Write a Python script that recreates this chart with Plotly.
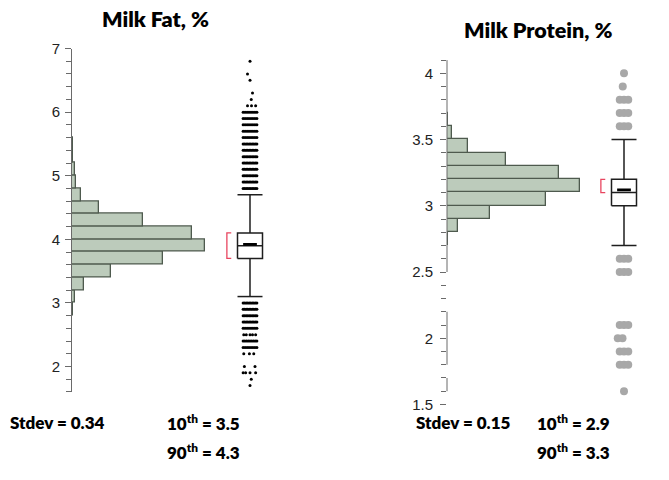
import numpy as np
import plotly.graph_objects as go

# ---------------- data ----------------
# Milk fat histogram (bin lower edges, width 0.2) and relative counts
fat_bin_lo = [2.8, 3.0, 3.2, 3.4, 3.6, 3.8, 4.0, 4.2, 4.4, 4.6, 4.8, 5.0, 5.2, 5.4]
fat_counts = [1, 2, 9, 29, 68, 100, 90, 53, 20, 7, 3, 2, 1, 1]
fat_bin_w = 0.2
# box summary
fat_q1, fat_med, fat_q3 = 3.7, 3.9, 4.1
fat_lo_wh, fat_hi_wh = 3.1, 4.7
fat_mean = 3.92
fat_short_half = [3.7, 4.1]
# outliers: value and number of visible dots
fat_out_vals = [4.8, 4.9, 5.0, 5.1, 5.2, 5.3, 5.4, 5.5, 5.6, 5.7, 5.8, 5.9, 6.0,
                6.1, 6.2, 6.3, 6.5, 6.6, 6.8,
                3.0, 2.9, 2.8, 2.7, 2.6, 2.5, 2.4, 2.3, 2.2, 2.0, 1.9, 1.8, 1.7]
fat_out_n = [10, 10, 10, 10, 10, 10, 10, 10, 8, 8, 8, 8, 8,
             3, 1, 1, 1, 1, 1,
             10, 10, 10, 10, 8, 5, 9, 8, 3, 2, 4, 1, 1]

# Milk protein histogram (width 0.1)
pro_bin_lo = [2.7, 2.8, 2.9, 3.0, 3.1, 3.2, 3.3, 3.4, 3.5, 3.6]
pro_counts = [1, 8, 32, 74, 100, 84, 44, 16, 4, 1]
pro_bin_w = 0.1
pro_q1, pro_med, pro_q3 = 3.0, 3.1, 3.2
pro_lo_wh, pro_hi_wh = 2.7, 3.5
pro_mean = 3.12
pro_short_half = [3.1, 3.2]
pro_out_vals = [4.0, 3.9, 3.8, 3.7, 3.6, 2.6, 2.5, 2.1, 2.0, 1.9, 1.8, 1.6]
pro_out_n = [1, 1, 3, 3, 3, 3, 3, 3, 2, 3, 3, 1]

titles = ["Milk Fat, %", "Milk Protein, %"]
stdevs = ["0.34", "0.15"]
p10 = ["3.5", "2.9"]
p90 = ["4.3", "3.3"]

fat_ticks = [2, 3, 4, 5, 6, 7]
pro_ticks = [1.5, 2, 2.5, 3, 3.5, 4]
pro_tick_text = ["1.5", "2", "2.5", "3", "3.5", "4"]

# ---------------- style / layout helpers ----------------
W, H = 669, 480
BAR_FILL = "rgb(188,203,187)"
BAR_LINE = "rgb(78,90,78)"
BOX_LINE = "#1e1e1e"
RED = "#e8455f"
AX = "#6a6a6a"

# explicit jitter for sparse rows (layout only)
fat_jitter = {6.1: [-0.2, 0.12, 0.45], 6.2: [0.1], 6.3: [0.2], 6.5: [0.0],
              6.6: [-0.2], 6.8: [0.0], 2.5: [-0.5, -0.3, 0.0, 0.2, 0.45],
              2.2: [-0.5, -0.05, 0.3], 2.0: [-0.45, 0.4], 1.9: [-0.55, -0.35, 0.0, 0.45],
              1.8: [0.1], 1.7: [0.0]}
pro_jitter = {3.9: [-0.1], 2.0: [-0.5, -0.12]}


def row_offsets(v, n, jit, spread):
    if v in jit:
        return jit[v]
    if n == 1:
        return [0.0]
    return list(np.linspace(-spread, spread, n))


fig = go.Figure()


def add_panel(bin_lo, counts, bw, q1, med, q3, lo, hi, mean, sh, out_v, out_n,
              xh, yy, xb, jit, spread, osize, ocolor):
    # histogram
    fig.add_trace(go.Bar(
        y=[b + bw / 2 for b in bin_lo], x=counts, width=bw, orientation="h",
        marker=dict(color=BAR_FILL, line=dict(color=BAR_LINE, width=1.3)),
        xaxis=xh, yaxis=yy, showlegend=False, hoverinfo="skip"))
    # whiskers
    for y0, y1 in [(q3, hi), (lo, q1)]:
        fig.add_trace(go.Scatter(x=[0, 0], y=[y0, y1], mode="lines",
                                 line=dict(color=BOX_LINE, width=1.5),
                                 xaxis=xb, yaxis=yy, showlegend=False, hoverinfo="skip"))
    for yv in [lo, hi]:
        fig.add_trace(go.Scatter(x=[-1, 1], y=[yv, yv], mode="lines",
                                 line=dict(color=BOX_LINE, width=1.5),
                                 xaxis=xb, yaxis=yy, showlegend=False, hoverinfo="skip"))
    # box
    fig.add_trace(go.Scatter(x=[-1, 1, 1, -1, -1], y=[q1, q1, q3, q3, q1], mode="lines",
                             fill="toself", fillcolor="white",
                             line=dict(color=BOX_LINE, width=1.5),
                             xaxis=xb, yaxis=yy, showlegend=False, hoverinfo="skip"))
    fig.add_trace(go.Scatter(x=[-1, 1], y=[med, med], mode="lines",
                             line=dict(color=BOX_LINE, width=1.5),
                             xaxis=xb, yaxis=yy, showlegend=False, hoverinfo="skip"))
    fig.add_trace(go.Scatter(x=[-0.55, 0.55], y=[mean, mean], mode="lines",
                             line=dict(color="black", width=2.6),
                             xaxis=xb, yaxis=yy, showlegend=False, hoverinfo="skip"))
    # shortest-half bracket
    fig.add_trace(go.Scatter(x=[-1.5, -1.85, -1.85, -1.5], y=[sh[1], sh[1], sh[0], sh[0]],
                             mode="lines", line=dict(color=RED, width=1.3),
                             xaxis=xb, yaxis=yy, showlegend=False, hoverinfo="skip"))
    # outliers
    ox, oy = [], []
    for v, n in zip(out_v, out_n):
        for o in row_offsets(v, n, jit, spread):
            ox.append(o)
            oy.append(v)
    fig.add_trace(go.Scatter(x=ox, y=oy, mode="markers",
                             marker=dict(color=ocolor, size=osize, line=dict(width=0)),
                             xaxis=xb, yaxis=yy, showlegend=False, hoverinfo="skip",
                             cliponaxis=False))


add_panel(fat_bin_lo, fat_counts, fat_bin_w, fat_q1, fat_med, fat_q3, fat_lo_wh, fat_hi_wh,
          fat_mean, fat_short_half, fat_out_vals, fat_out_n, "x", "y", "x3",
          fat_jitter, 0.55, 3, "black")
add_panel(pro_bin_lo, pro_counts, pro_bin_w, pro_q1, pro_med, pro_q3, pro_lo_wh, pro_hi_wh,
          pro_mean, pro_short_half, pro_out_vals, pro_out_n, "x2", "y2", "x4",
          pro_jitter, 0.34, 8, "#a8a8a8")


def px(v):
    return v / W


def py(v):
    return 1 - v / H


hidden = dict(visible=False, fixedrange=True)
tickfont = dict(family="Liberation Sans, Arial, sans-serif", size=15, color="#222222")

fig.update_layout(
    width=W, height=H, margin=dict(l=0, r=0, t=0, b=0),
    paper_bgcolor="white", plot_bgcolor="rgba(0,0,0,0)",
    bargap=0, barmode="overlay",
    xaxis=dict(domain=[px(72), px(272)], range=[0, 150], anchor="y", **hidden),
    xaxis3=dict(domain=[px(200), px(300)], range=[-4, 4], anchor="y", **hidden),
    xaxis2=dict(domain=[px(447), px(647)], range=[0, 150], anchor="y2", **hidden),
    xaxis4=dict(domain=[px(584), px(664)], range=[-3.2, 3.2], anchor="y2", **hidden),
    yaxis=dict(domain=[py(397), py(41)], range=[1.6, 7], anchor="x",
               tickmode="array", tickvals=fat_ticks, ticks="outside", ticklen=6,
               tickcolor=AX, tickwidth=1, showline=True, linecolor=AX, linewidth=1,
               showgrid=False, zeroline=False, tickfont=tickfont, ticklabelstandoff=2,
               minor=dict(tick0=1.6, dtick=0.2, ticks="outside", ticklen=5,
                          tickcolor=AX, tickwidth=1, showgrid=False),
               fixedrange=True),
    yaxis2=dict(domain=[py(410), py(53)], range=[1.5, 4.1], anchor="x2",
                tickmode="array", tickvals=pro_ticks, ticktext=pro_tick_text,
                ticks="outside", ticklen=6,
                tickcolor=AX, tickwidth=1, showline=False,
                showgrid=False, zeroline=False, tickfont=tickfont, ticklabelstandoff=4,
                minor=dict(tickvals=[round(1.6 + 0.1 * i, 1) for i in range(26)],
                           ticks="outside", ticklen=5, tickcolor=AX, tickwidth=1,
                           showgrid=False),
                fixedrange=True),
)

# broken axis line for protein panel
for y0, y1 in [(4.1, 2.5), (2.2, 1.8), (1.7, 1.6)]:
    fig.add_shape(type="line", xref="x2 domain", yref="y2", x0=0, x1=0, y0=y0, y1=y1,
                  line=dict(color=AX, width=1))

tfont = dict(family="Lato, Noto Sans, sans-serif", size=21.5, color="black", weight=800)
ann = [
    dict(x=px(155), y=py(10), text=titles[0]),
    dict(x=px(538), y=py(22), text=titles[1]),
]
for a in ann:
    fig.add_annotation(xref="paper", yref="paper", showarrow=False, xanchor="center",
                       yanchor="middle", font=tfont, **a)

bfont = dict(family="Lato, Noto Sans, sans-serif", size=17, color="black", weight=800)
rows = [
    (8, 429, "Stdev = " + stdevs[0]),
    (165, 429, "10<sup>th</sup> = " + p10[0]),
    (165, 459, "90<sup>th</sup> = " + p90[0]),
    (414, 429, "Stdev = " + stdevs[1]),
    (535, 429, "10<sup>th</sup> = " + p10[1]),
    (535, 459, "90<sup>th</sup> = " + p90[1]),
]
for xx, yy_, t in rows:
    fig.add_annotation(xref="paper", yref="paper", x=px(xx), y=py(yy_), text=t,
                       showarrow=False, xanchor="left", yanchor="middle", font=bfont)

fig.write_html("out.html")
